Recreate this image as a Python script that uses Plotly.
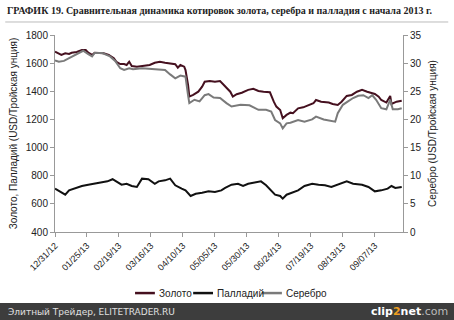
import pandas as pd
import plotly.graph_objects as go

START = pd.Timestamp("2012-12-31")

# days since 2012-12-31 and values
gold_days = [0,3,5,8,11,13,17,21,24,26,29,31,34,38,42,46,48,51,54,56,58,60,64,69,74,78,82,86,90,94,96,98,
             101,102,104,105,108,112,115,117,121,125,129,133,137,139,142,146,151,155,159,163,168,171,173,
             176,178,181,184,186,190,194,198,202,204,208,214,217,221,224,228,232,236,240,244,247,250,253,
             255,259,262,263,267,271]
gold_vals = [1681,1665,1658,1670,1665,1674,1679,1693,1693,1674,1658,1674,1670,1670,1658,1634,1610,1594,1594,
             1587,1610,1580,1575,1580,1587,1603,1610,1603,1599,1592,1568,1587,1575,1551,1445,1362,1374,1397,
             1433,1468,1473,1468,1473,1433,1397,1362,1379,1390,1410,1417,1402,1397,1393,1326,1291,1267,1208,
             1232,1248,1244,1279,1286,1303,1315,1338,1326,1320,1310,1303,1326,1367,1374,1397,1410,1397,1390,
             1381,1362,1338,1320,1367,1310,1326,1333]

silver_days = [0,3,7,11,15,19,22,26,29,31,37,43,47,51,54,58,61,68,76,81,86,90,94,98,102,104,105,109,113,
               117,120,124,129,134,138,145,152,159,165,169,172,176,178,181,184,190,195,201,204,210,215,219,
               221,225,229,233,237,241,245,248,251,255,259,262,264,268,271]
silver_vals = [30.5,30.25,30.4,30.9,31.4,31.8,32.2,31.6,31.2,31.8,31.8,31.2,30.4,29.1,28.8,29.1,28.9,29.1,
               29.0,28.9,28.8,28.0,27.3,27.8,27.6,24.3,22.9,23.5,23.2,24.3,24.5,23.9,23.8,22.9,22.3,22.6,
               22.5,21.7,21.7,21.4,19.9,19.3,18.4,19.3,19.4,19.9,19.6,20.0,20.5,20.0,19.8,19.6,21.1,22.6,
               23.2,23.8,24.2,24.3,23.8,24.3,23.5,22.0,21.8,23.5,21.8,21.8,22.0]

pall_days = [0,4,8,11,16,21,26,30,35,41,45,48,52,56,60,64,68,73,78,81,86,90,94,99,102,106,110,115,120,125,
             130,133,138,143,147,151,156,161,165,169,172,176,178,181,185,190,195,201,206,211,216,221,228,
             233,240,245,250,255,260,263,266,271]
pall_vals = [708,689,665,696,713,727,736,743,755,760,775,760,736,743,727,720,779,775,743,760,767,779,732,708,
             696,656,672,679,689,684,696,713,736,743,727,743,750,760,732,696,665,656,637,665,679,696,727,
             743,736,732,720,736,760,743,736,720,689,696,708,727,713,720]

tick_dates = ["2012-12-31","2013-01-25","2013-02-19","2013-03-16","2013-04-10","2013-05-05",
              "2013-05-30","2013-06-24","2013-07-19","2013-08-13","2013-09-07"]
tick_labels = ["12/31/12","01/25/13","02/19/13","03/16/13","04/10/13","05/05/13",
               "05/30/13","06/24/13","07/19/13","08/13/13","09/07/13"]

series_names = ["Золото", "Палладий", "Серебро"]
series_colors = ["#45101f", "#111111", "#7a7a7a"]

def to_dates(days):
    return [START + pd.Timedelta(days=d) for d in days]

NARROW = "Liberation Sans Narrow, Arial Narrow, sans-serif"

fig = go.Figure()
fig.add_trace(go.Scatter(x=to_dates(gold_days), y=gold_vals, name=series_names[0], mode="lines",
                         line=dict(color=series_colors[0], width=2)))
fig.add_trace(go.Scatter(x=to_dates(pall_days), y=pall_vals, name=series_names[1], mode="lines",
                         line=dict(color=series_colors[1], width=2)))
fig.add_trace(go.Scatter(x=to_dates(silver_days), y=silver_vals, name=series_names[2], mode="lines",
                         line=dict(color=series_colors[2], width=2), yaxis="y2"))

fig.update_layout(
    width=454, height=320,
    margin=dict(l=55, r=51, t=35, b=88),
    paper_bgcolor="white", plot_bgcolor="white",
    font=dict(family=NARROW, size=10, color="#222"),
    showlegend=False,
    xaxis=dict(range=["2012-12-31", "2013-09-29"], tickvals=tick_dates, ticktext=tick_labels,
               tickangle=-45, showgrid=False, zeroline=False, showline=True,
               linecolor="#999", linewidth=1, ticks="outside", ticklen=4, tickcolor="#999",
               tickfont=dict(family=NARROW, size=9, color="#222")),
    yaxis=dict(range=[400, 1800], dtick=200, showgrid=False, zeroline=False, showline=True,
               linecolor="#999", linewidth=1, ticks="outside", ticklen=4, tickcolor="#999",
               tickfont=dict(family=NARROW, size=10, color="#222"),
               title=dict(text="Золото, Палладий (USD/Тройская унция)",
                          font=dict(family=NARROW, size=10, color="#222"), standoff=6)),
    yaxis2=dict(range=[0, 35], dtick=5, overlaying="y", side="right", showgrid=False,
                zeroline=False, showline=True, linecolor="#999", linewidth=1,
                ticks="outside", ticklen=4, tickcolor="#999",
                tickfont=dict(family=NARROW, size=10, color="#222"),
                title=dict(text="Серебро (USD/Тройская унция)",
                           font=dict(family=NARROW, size=10, color="#222"), standoff=8)),
)

# custom compact legend
legend_x = [0.230, 0.397, 0.595]
for name, color, lx in zip(series_names, series_colors, legend_x):
    fig.add_shape(type="line", xref="paper", yref="paper", x0=lx, x1=lx + 0.057, y0=-0.31, y1=-0.31,
                  line=dict(color=color, width=2.5))
    fig.add_annotation(text=name, xref="paper", yref="paper", x=lx + 0.062, y=-0.31,
                       xanchor="left", yanchor="middle", showarrow=False,
                       font=dict(family=NARROW, size=10, color="#222"))

# title
fig.add_annotation(text="<b>ГРАФИК 19. Сравнительная динамика котировок золота, серебра и палладия с начала 2013 г.</b>",
                   xref="paper", yref="paper", x=-0.143, y=1.125, xanchor="left", yanchor="middle",
                   showarrow=False, font=dict(family="Liberation Serif, serif", size=10, color="#222"))
fig.add_shape(type="line", xref="paper", yref="paper", x0=-0.143, x1=1.13, y0=1.066, y1=1.066,
              line=dict(color="#bbbbbb", width=1))
# footer band
fig.add_shape(type="rect", xref="paper", yref="paper", x0=-0.16, x1=1.15, y0=-0.36, y1=-0.46,
              fillcolor="#3d3d3d", line=dict(width=0), layer="above")
fig.add_annotation(text="Элитный Трейдер, ELITETRADER.RU", xref="paper", yref="paper",
                   x=-0.14, y=-0.405, xanchor="left", yanchor="middle", showarrow=False,
                   font=dict(family="DejaVu Sans", size=9, color="#e0e0e0"))
fig.add_annotation(text="<b>clip<span style='color:#f0a020'>2</span>net</b><span style='color:#bbbbbb'>.com</span>",
                   xref="paper", yref="paper", x=1.135, y=-0.405, xanchor="right", yanchor="middle",
                   showarrow=False, font=dict(family="DejaVu Sans", size=11, color="#ffffff"))

fig.write_html("out.html")
